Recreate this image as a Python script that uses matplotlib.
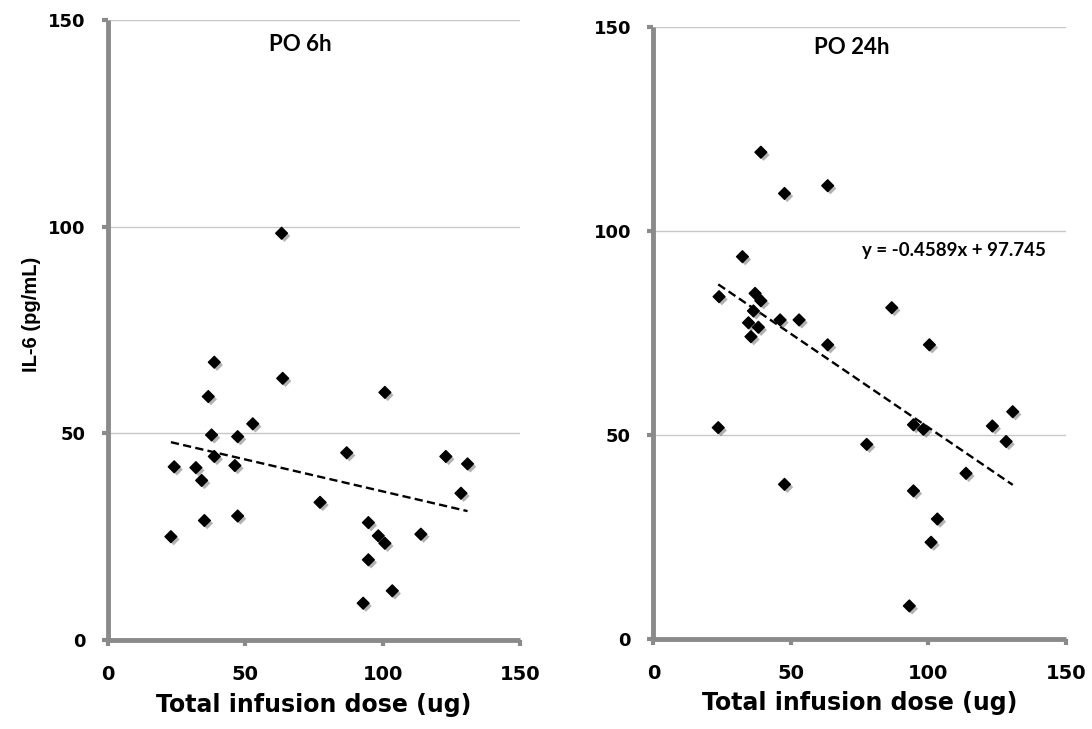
import numpy as np
import matplotlib
matplotlib.use('Agg')
import matplotlib.pyplot as plt
import matplotlib.patheffects as pe

# PO 6h panel
dose_6h = [63.2, 38.7, 63.6, 100.8, 36.5, 52.7, 37.7, 47.2, 38.7, 24.1, 32.0, 46.2, 34.1, 86.9,
           123.0, 130.9, 128.5, 77.2, 35.1, 47.2, 22.9, 94.8, 98.4, 100.8, 113.9, 94.8, 103.5, 92.9]
il6_6h = [98.4, 67.2, 63.3, 59.9, 58.9, 52.3, 49.6, 49.2, 44.4, 41.9, 41.7, 42.2, 38.6, 45.3,
          44.4, 42.6, 35.5, 33.3, 28.9, 30.0, 25.0, 28.4, 25.2, 23.4, 25.6, 19.4, 11.9, 8.9]

# PO 24h panel
dose_24h = [39.1, 47.7, 63.4, 32.4, 23.9, 37.0, 39.1, 36.4, 34.6, 38.2, 35.5, 46.1, 53.0, 63.4, 86.7,
            100.4, 23.6, 94.6, 98.2, 123.3, 130.7, 128.3, 77.6, 113.7, 47.7, 94.6, 103.3, 101.0, 93.1]
il6_24h = [119.3, 109.2, 111.1, 93.7, 83.9, 84.7, 82.9, 80.4, 77.5, 76.4, 74.1, 78.2, 78.2, 72.1, 81.2,
           72.1, 51.8, 52.5, 51.4, 52.2, 55.7, 48.4, 47.7, 40.6, 37.9, 36.3, 29.4, 23.7, 8.1]

slope_24h = -0.4589
intercept_24h = 97.745

titles = ['PO 6h', 'PO 24h']
xlabel = 'Total infusion dose (ug)'
ylabel = 'IL-6 (pg/mL)'
ticks = [0, 50, 100, 150]

spine_col = '#8a8a8a'
grid_col = '#c8c8c8'

fig = plt.figure(figsize=(10.92, 7.29), dpi=100)
ax1 = fig.add_axes([0.0989, 0.1221, 0.3773, 0.8505])
ax2 = fig.add_axes([0.5983, 0.1235, 0.3777, 0.8395])


def style_axis(ax):
    ax.set_xlim(0, 150)
    ax.set_ylim(0, 150)
    ax.set_xticks(ticks)
    ax.set_yticks(ticks)
    for s in ['top', 'right']:
        ax.spines[s].set_visible(False)
    for s in ['left', 'bottom']:
        ax.spines[s].set_color(spine_col)
        ax.spines[s].set_linewidth(3.5)
        ax.spines[s].set_capstyle('butt')
    ax.tick_params(axis='both', direction='out', color=spine_col, width=3, length=4)
    ax.tick_params(axis='x', pad=14, labelsize=14)
    ax.tick_params(axis='y', pad=12, labelsize=13)
    for lab in ax.get_xticklabels() + ax.get_yticklabels():
        lab.set_fontweight('bold')
        lab.set_family('DejaVu Sans')
    for yv in [50, 100, 150]:
        ax.axhline(yv, color=grid_col, lw=1.0, zorder=0)
    ax.set_xlabel(xlabel, fontsize=17, fontweight='bold', family='DejaVu Sans')
    ax.xaxis.set_label_coords(0.5, -0.085)


shadow = [pe.SimplePatchShadow(offset=(2, -2), shadow_rgbFace='#555555', alpha=0.45), pe.Normal()]

# left panel
style_axis(ax1)
ax1.scatter(dose_6h, il6_6h, marker='D', s=36, color='black', zorder=3, path_effects=shadow)
m1, b1 = np.polyfit(dose_6h, il6_6h, 1)
xs1 = np.array([min(dose_6h), max(dose_6h)])
ax1.plot(xs1, m1 * xs1 + b1, color='black', lw=1.7, linestyle=(0, (3.5, 1.8)), zorder=2)
ax1.text(70, 144, titles[0], ha='center', va='center', fontsize=16, fontweight='bold', family='Lato')
ax1.set_ylabel(ylabel, fontsize=14.5, fontweight='bold', family='Liberation Sans')
ax1.yaxis.set_label_coords(-0.163, 0.525)

# right panel
style_axis(ax2)
ax2.scatter(dose_24h, il6_24h, marker='D', s=36, color='black', zorder=3, path_effects=shadow)
xs2 = np.array([min(dose_24h), max(dose_24h)])
ax2.plot(xs2, slope_24h * xs2 + intercept_24h, color='black', lw=1.7, linestyle=(0, (3.5, 1.8)), zorder=2)
ax2.text(72.3, 145, titles[1], ha='center', va='center', fontsize=16, fontweight='bold', family='Lato')
ax2.text(75.8, 95.3, 'y = -0.4589x + 97.745', ha='left', va='center', fontsize=13.5,
         fontweight='bold', family='Lato')

fig.savefig('out.png', dpi=100)
